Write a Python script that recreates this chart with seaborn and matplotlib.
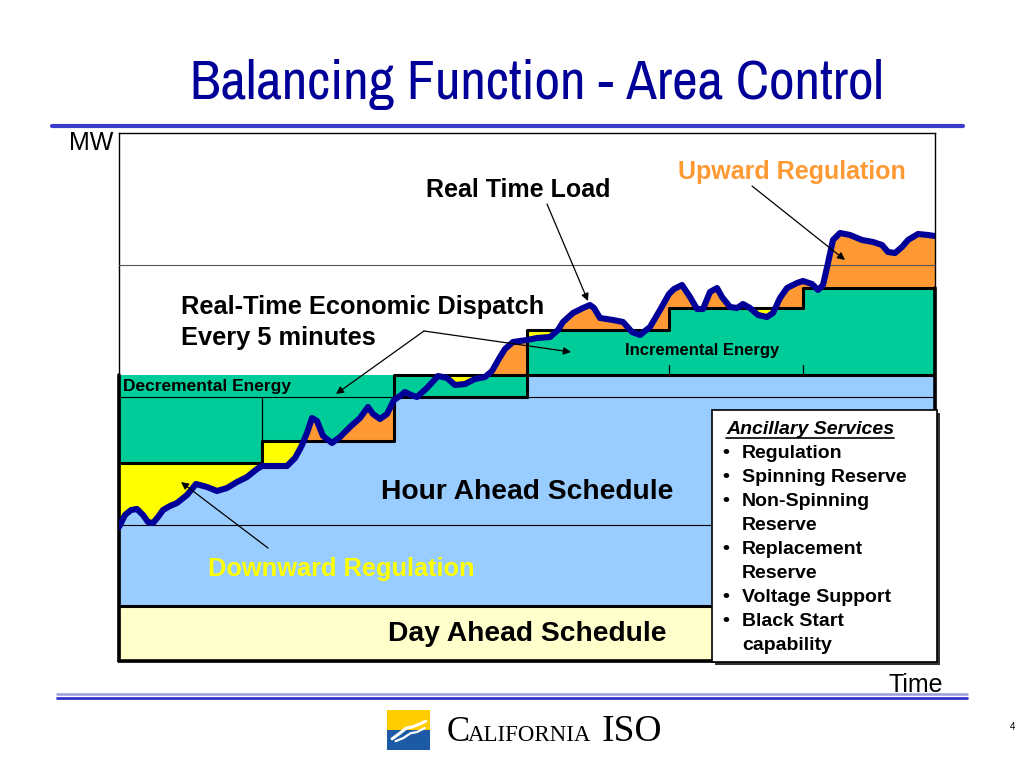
import numpy as np
import matplotlib
matplotlib.use("Agg")
import matplotlib.pyplot as plt
from matplotlib import font_manager
from matplotlib.patches import Rectangle
from matplotlib.lines import Line2D
import seaborn as sns

# --- data (time index across the chart, MW above the floor) ---
step_edges = [0, 143, 275, 408, 550, 684, 816]
rt_dispatch_mw = [198, 220, 286, 331, 353, 373]
hour_ahead_mw = [286, 286, 264, 286, 286, 286]
day_ahead_mw = 55
base_line_mw = 136
upper_line_mw = 396

load_time = [0, 6, 12, 18, 24, 29, 34, 39, 44, 51, 58, 68, 77, 88, 98, 108, 118, 128, 138, 143,
             154, 168, 176, 181, 183, 188, 193, 198, 204, 213, 221, 231, 241, 249, 254, 261, 268, 273, 275,
             281, 286, 292, 298, 308, 319, 328, 336, 346, 356, 366, 373, 381, 386, 394, 408,
             418, 431, 439, 444, 454, 464, 471, 475, 481, 494, 504, 513, 521, 531, 541, 550,
             555, 563, 571, 578, 584, 591, 598, 603, 611, 618, 624, 631, 639, 648, 654, 661, 668, 678, 684,
             693, 699, 704, 709, 714, 721, 731, 743, 754, 763, 769, 776, 783, 789, 799, 809, 816]
load_mw = [134, 146, 151, 152, 146, 139, 138, 144, 151, 155, 158, 166, 177, 174, 170, 173, 179, 184, 192, 195,
           195, 195, 203, 212, 216, 228, 243, 240, 225, 218, 224, 234, 243, 254, 247, 242, 247, 257, 261,
           265, 269, 266, 264, 273, 285, 283, 276, 277, 282, 284, 290, 304, 312, 319, 321,
           323, 324, 331, 339, 348, 353, 356, 353, 343, 341, 339, 329, 326, 334, 351, 367,
           372, 376, 364, 352, 352, 369, 373, 364, 354, 353, 357, 353, 346, 344, 348, 363, 373, 378, 380,
           377, 371, 376, 398, 421, 428, 426, 421, 419, 416, 409, 408, 414, 421, 427, 426, 425]

# windows where downward regulation is shaded
down_reg_windows = [(0, 190), (327, 359), (408, 440), (633, 659)]

ancillary_services = ["Regulation", "Spinning Reserve", "Non-Spinning\nReserve",
                      "Replacement\nReserve", "Voltage Support", "Black Start\ncapability"]

# --- colours ---
BLUE = "#99CCFF"
GREEN = "#00CC99"
ORANGE = "#FF9933"
YELLOW = "#FFFF00"
CREAM = "#FFFFCC"
NAVY = "#000099"

sns.set_theme(style="white")
fonts = font_manager.fontManager.ttflist
available = {f.name for f in fonts}
sans = "Liberation Sans" if "Liberation Sans" in available else "DejaVu Sans"
serif = "Liberation Serif" if "Liberation Serif" in available else "DejaVu Serif"
# a condensed face for the slide title, if there is one
narrow, narrow_stretch = sans, "normal"
for f in fonts:
    if "Narrow" in f.name or "Condensed" in f.name:
        narrow, narrow_stretch = f.name, "normal"
        break
else:
    for f in fonts:
        if f.stretch in ("condensed", "semi-condensed") and f.style == "normal" and f.weight in (400, "normal"):
            narrow, narrow_stretch = f.name, f.stretch
            break
plt.rcParams["font.family"] = [sans, "DejaVu Sans"]
plt.rcParams["text.color"] = "black"

load_t = np.array(load_time, dtype=float)
load_y = np.array(load_mw, dtype=float)
assert len(load_t) == len(load_y)

fig = plt.figure(figsize=(10.24, 7.68), dpi=100)
fig.patch.set_facecolor("white")


def fx(px):
    return px / 1024


def fy(py):
    return 1 - py / 768


ax = fig.add_axes([fx(119), fy(661), 816 / 1024, 528 / 768])
ax.set_xlim(0, 816)
ax.set_ylim(0, 528)
ax.set_xticks([])
ax.set_yticks([])
for sp in ax.spines.values():
    sp.set_color("black")
    sp.set_linewidth(1.0)

# day ahead band
ax.fill_between([0, 816], 0, day_ahead_mw, color=CREAM, zorder=1, lw=0)

# hour ahead (blue) and energy blocks (green)
for i in range(len(rt_dispatch_mw)):
    t0, t1 = step_edges[i], step_edges[i + 1]
    ax.fill_between([t0, t1], day_ahead_mw, hour_ahead_mw[i], color=BLUE, zorder=1, lw=0)
    lo, hi = sorted([hour_ahead_mw[i], rt_dispatch_mw[i]])
    ax.fill_between([t0, t1], lo, hi, color=GREEN, zorder=1.5, lw=0)

# regulation areas between load and real-time dispatch
for i in range(len(rt_dispatch_mw)):
    t0, t1 = step_edges[i], step_edges[i + 1]
    m = (load_t >= t0) & (load_t <= t1)
    st, sy = load_t[m], load_y[m]
    d = rt_dispatch_mw[i]
    ax.fill_between(st, d, sy, where=sy > d, interpolate=True, color=ORANGE, zorder=2, lw=0)
    in_win = np.zeros_like(st, dtype=bool)
    for a, b in down_reg_windows:
        in_win |= (st >= a) & (st <= b)
    ax.fill_between(st, sy, d, where=(sy < d) & in_win, interpolate=True, color=YELLOW, zorder=2, lw=0)

# thin reference lines
ax.axhline(upper_line_mw, color="#555555", lw=0.8, zorder=3)
ax.axhline(base_line_mw, color="black", lw=0.8, zorder=3)
ax.plot([0, step_edges[2]], [264, 264], color="black", lw=0.8, zorder=3)
ax.plot([step_edges[3], 816], [264, 264], color="black", lw=0.8, zorder=3)
ax.plot([step_edges[1]] * 2, [rt_dispatch_mw[1], 264], color="black", lw=0.9, zorder=3)
for t in step_edges[4:6]:
    ax.plot([t, t], [286, 296], color="black", lw=0.9, zorder=3)

# thick schedule outlines
ax.step(step_edges, rt_dispatch_mw + [rt_dispatch_mw[-1]], where="post", color="black", lw=2.2, zorder=4)
ax.plot([step_edges[2], step_edges[3]], [264, 264], color="black", lw=2.2, zorder=4)
ax.plot([step_edges[3]] * 2, [264, 286], color="black", lw=2.2, zorder=4)
ax.plot([step_edges[3], 816], [286, 286], color="black", lw=2.2, zorder=4)
ax.plot([0, 816], [day_ahead_mw, day_ahead_mw], color="black", lw=2.2, zorder=4)
ax.plot([0, 0], [0, 286], color="black", lw=2.6, zorder=4, clip_on=False)
ax.plot([0, 816], [0, 0], color="black", lw=2.6, zorder=4, clip_on=False)
ax.plot([816, 816], [250, 373], color="black", lw=2.6, zorder=4, clip_on=False)

# real time load
sns.lineplot(x=load_t, y=load_y, color=NAVY, linewidth=4.4, ax=ax, zorder=5,
             solid_joinstyle="round", solid_capstyle="round")
ax.set(xlabel="", ylabel="")

# ancillary services box
ax.add_patch(Rectangle((596, -4), 225, 252, facecolor="#333333", edgecolor="none", zorder=6, clip_on=False))
ax.add_patch(Rectangle((593, -1), 225, 252, facecolor="white", edgecolor="black", lw=1.2, zorder=7, clip_on=False))
head = ax.text(607, 231, "Ancillary Services", fontsize=14, fontweight="bold", fontstyle="italic",
               va="center", ha="left", zorder=8)
row = 208
for item in ancillary_services:
    ax.text(603, row, "\u2022", fontsize=14, fontweight="bold", va="center", ha="left", zorder=8)
    for line in item.split("\n"):
        ax.text(623, row, line, fontsize=14, fontweight="bold", va="center", ha="left", zorder=8)
        row -= 24

# labels inside chart
ax.text(673, 489, "Upward Regulation", color=ORANGE, fontsize=18, fontweight="bold", ha="center", va="center")
ax.text(399, 471, "Real Time Load", fontsize=18, fontweight="bold", ha="center", va="center")
ax.text(62, 354, "Real-Time Economic Dispatch", fontsize=18.3, fontweight="bold", ha="left", va="center")
ax.text(62, 323, "Every 5 minutes", fontsize=18.3, fontweight="bold", ha="left", va="center")
ax.text(583, 310, "Incremental Energy", fontsize=12, fontweight="bold", ha="center", va="center", zorder=6)
ax.text(4, 274, "Decremental Energy", fontsize=12.5, fontweight="bold", ha="left", va="center", zorder=6)
ax.text(408, 169, "Hour Ahead Schedule", fontsize=20.3, fontweight="bold", ha="center", va="center", zorder=6)
ax.text(89, 92, "Downward Regulation", color=YELLOW, fontsize=18.3, fontweight="bold", ha="left", va="center", zorder=6)
ax.text(408, 27, "Day Ahead Schedule", fontsize=20.3, fontweight="bold", ha="center", va="center", zorder=6)

arrow = dict(arrowstyle="-|>", color="black", lw=0.9, mutation_scale=11, shrinkA=0, shrinkB=0)
ax.annotate("", xy=(726, 401), xytext=(633, 475), arrowprops=arrow, zorder=6)
ax.annotate("", xy=(469, 360), xytext=(428, 457), arrowprops=arrow, zorder=6)
ax.annotate("", xy=(217, 267), xytext=(305, 330), arrowprops=arrow, zorder=6)
ax.annotate("", xy=(452, 309), xytext=(305, 330), arrowprops=arrow, zorder=6)
ax.annotate("", xy=(62, 179), xytext=(149, 113), arrowprops=arrow, zorder=6)

# slide furniture
title = fig.text(fx(537), fy(84), "Balancing Function - Area Control", fontsize=38, color=NAVY,
                 family=[narrow, "DejaVu Sans"], fontstretch=narrow_stretch, ha="center", va="center")
fig.add_artist(Line2D([fx(52), fx(963)], [fy(126), fy(126)], lw=3, color="#3B3BCC"))
fig.add_artist(Line2D([fx(57), fx(967)], [fy(694), fy(694)], lw=1.8, color="#9A9ADD"))
fig.add_artist(Line2D([fx(57), fx(967)], [fy(697.5), fy(697.5)], lw=2.0, color="#3333CC"))
fig.text(fx(113), fy(143), "MW", fontsize=18, ha="right", va="center")
fig.text(fx(943), fy(685), "Time", fontsize=18, ha="right", va="center")
fig.text(fx(1013), fy(727), "4", fontsize=7, ha="center", va="center")

# logo
lax = fig.add_axes([fx(387), fy(750), 43 / 1024, 40 / 768])
lax.set_xlim(0, 1)
lax.set_ylim(0, 1)
lax.axis("off")
lax.add_patch(Rectangle((0, 0.5), 1, 0.5, color="#FFCC00", lw=0))
lax.add_patch(Rectangle((0, 0), 1, 0.5, color="#1C5AA6", lw=0))
lax.plot([0.12, 0.3, 0.45, 0.6, 0.78, 0.9], [0.28, 0.42, 0.55, 0.58, 0.66, 0.72], color="white", lw=2.2)
lax.plot([0.2, 0.38, 0.55, 0.7, 0.88], [0.22, 0.3, 0.42, 0.45, 0.55], color="white", lw=1.6)
fig.text(fx(447), fy(741), "C", fontsize=25, family=[serif], ha="left", va="baseline")
fig.text(fx(468), fy(741), "ALIFORNIA", fontsize=16.5, family=[serif], ha="left", va="baseline")
fig.text(fx(602), fy(741), "ISO", fontsize=27, family=[serif], ha="left", va="baseline")

# fit title width to the slide and underline the box heading
fig.canvas.draw()
tw = title.get_window_extent().width
title.set_fontsize(38 * 693 / tw)
bb = head.get_window_extent()
fig.add_artist(Line2D([bb.x0 / 1024, bb.x1 / 1024], [(bb.y0 + 1) / 768] * 2, lw=1.2, color="black", zorder=9))

fig.savefig("out.png", dpi=100)
